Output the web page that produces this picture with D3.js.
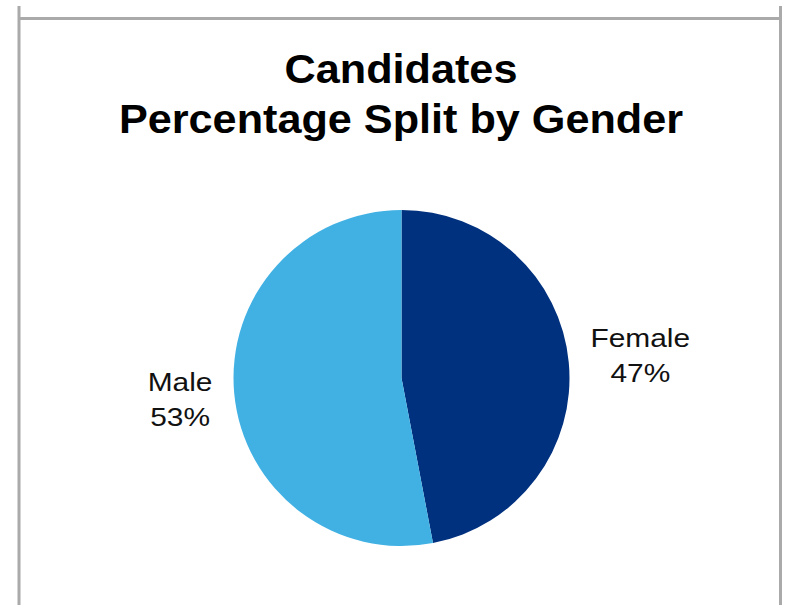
<!DOCTYPE html>
<html>
<head>
<meta charset="utf-8">
<script src="https://cdn.jsdelivr.net/npm/d3@7"></script>
<style>
  html, body { margin: 0; padding: 0; background: #fff; }
  svg { display: block; }
</style>
</head>
<body>
<svg id="chart" width="788" height="605"></svg>
<script>
const categories = ["Female", "Male"];
const values = [47, 53];
const colors = ["#00317f", "#41b1e4"];
const titleLines = ["Candidates", "Percentage Split by Gender"];

const svg = d3.select("#chart");
const W = 788, H = 605;
const cx = 401.5, cy = 378, r = 168;

// frame lines
svg.append("line").attr("x1", 19).attr("x2", 19).attr("y1", 6).attr("y2", H)
  .attr("stroke", "#aaa").attr("stroke-width", 3);
svg.append("line").attr("x1", 780.5).attr("x2", 780.5).attr("y1", 6).attr("y2", H)
  .attr("stroke", "#aaa").attr("stroke-width", 3);
svg.append("line").attr("x1", 19).attr("x2", 782).attr("y1", 18.5).attr("y2", 18.5)
  .attr("stroke", "#aaa").attr("stroke-width", 3);

// title
const title = svg.append("text")
  .attr("text-anchor", "middle")
  .attr("font-family", "Liberation Sans, Arial, sans-serif")
  .attr("font-weight", "bold")
  .attr("font-size", 40)
  .attr("fill", "#000")
  .attr("transform", "translate(401,0) scale(1.08,1)");
titleLines.forEach((t, i) => {
  title.append("tspan").attr("x", 0).attr("y", 83 + i * 50).text(t);
});

const data = categories.map((c, i) => ({ name: c, value: values[i], color: colors[i] }));
const pie = d3.pie().value(d => d.value).sort(null);
const arc = d3.arc().innerRadius(0).outerRadius(r);
const arcs = pie(data);

const g = svg.append("g").attr("transform", `translate(${cx},${cy})`);
g.selectAll("path").data(arcs).join("path")
  .attr("d", arc)
  .attr("fill", d => d.data.color);

// labels
const total = d3.sum(values);
arcs.forEach(a => {
  const mid = (a.startAngle + a.endAngle) / 2;
  const lab = g.append("text")
    .attr("text-anchor", "middle")
    .attr("font-family", "Liberation Sans, Arial, sans-serif")
    .attr("font-size", 26)
    .attr("fill", "#111");
  const t1 = lab.append("tspan").attr("x", 0).attr("y", -8).text(a.data.name);
  const t2 = lab.append("tspan").attr("x", 0).attr("y", 27)
    .text(Math.round(a.data.value / total * 100) + "%");
  const sx = 1.15;
  const wText = Math.max(t1.node().getComputedTextLength(), t2.node().getComputedTextLength()) * sx;
  const R = r + 22 + wText / 2;
  const px = Math.sin(mid) * R, py = -Math.cos(mid) * R;
  lab.attr("transform", `translate(${px},${py}) scale(${sx},1)`);
});
</script>
</body>
</html>
